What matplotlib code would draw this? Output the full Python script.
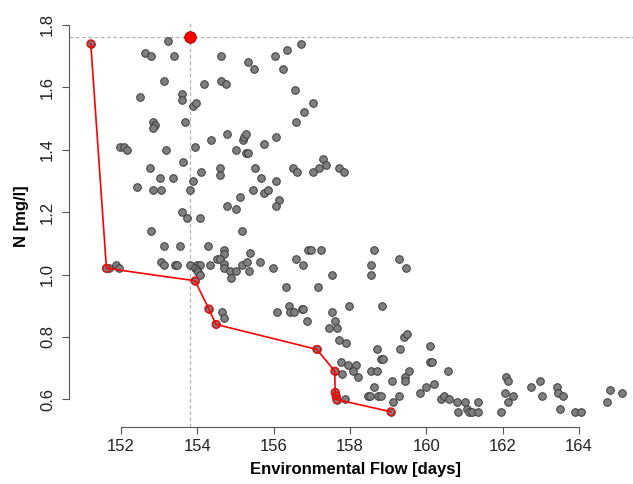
""" Environmental flow vs N concentration scatter """

import matplotlib
matplotlib.use("Agg")
import matplotlib.pyplot as plt
import numpy as np

# Candidate solutions (gray points)
flow_days = [
    153.23, 152.62, 152.80, 153.39, 154.63, 155.32, 155.49, 156.04, 156.24, 156.35,
    156.71, 153.13, 154.63, 154.75, 154.18, 153.60, 153.60, 153.90, 153.96, 152.50,
    156.55, 157.02, 156.79, 156.58, 152.84, 152.90, 152.84, 153.68, 151.97, 152.08,
    152.16, 153.17, 153.94, 154.36, 154.77, 155.02, 155.21, 155.23, 155.27, 155.28,
    155.34, 155.75, 156.05, 152.75, 153.03, 153.36, 153.62, 154.09, 153.90, 153.80,
    154.59, 154.59, 155.51, 155.66, 156.07, 156.50, 156.62, 157.03, 157.20, 157.28,
    157.38, 157.70, 157.85, 152.43, 152.84, 153.04, 155.45, 155.75, 155.85, 155.12,
    154.77, 155.02, 156.13, 156.07, 153.60, 153.72, 154.08, 152.80, 155.16,
    153.13, 153.56, 154.29, 154.70, 154.70, 154.51, 154.60, 154.69, 153.05, 153.13,
    153.41, 153.48, 153.81, 153.99, 154.08, 153.95, 153.99, 154.03, 154.08, 154.34,
    154.69, 154.86, 155.01, 154.89, 155.16, 155.31, 155.37, 155.35, 155.63, 155.98,
    156.59, 156.78, 156.91, 156.98, 157.24, 158.62, 158.54, 158.54, 157.54, 157.15,
    156.33, 159.29, 159.46, 156.39, 156.08, 156.43, 156.52, 156.74, 156.78, 156.87,
    154.64, 154.71, 151.70, 151.88, 151.96,
    157.54, 157.61, 157.45, 157.66, 157.97, 158.85, 157.72, 157.89, 158.70, 158.81,
    158.87, 159.32, 159.41, 159.48, 160.10, 160.10, 160.16, 157.76, 157.79, 157.96,
    158.16, 158.09, 158.20, 158.54, 158.70, 158.62, 158.47, 158.53, 158.72, 158.80,
    159.11, 159.43, 159.43, 159.54, 159.13, 159.28, 157.87, 159.83, 159.98, 160.19,
    160.56, 160.39, 160.47, 160.58, 160.80, 160.84, 161.02, 161.06, 161.12, 161.20,
    161.36, 161.36, 161.95, 162.08, 162.13, 162.05, 162.27, 162.15, 162.74, 162.98,
    163.03, 163.42, 163.46, 163.58, 163.51, 163.90, 164.05, 164.74, 164.82, 165.13,
]
n_conc = [
    1.75, 1.71, 1.70, 1.70, 1.70, 1.68, 1.66, 1.70, 1.66, 1.72,
    1.74, 1.62, 1.62, 1.61, 1.61, 1.58, 1.56, 1.54, 1.55, 1.57,
    1.59, 1.55, 1.52, 1.49, 1.49, 1.48, 1.47, 1.49, 1.41, 1.41,
    1.40, 1.40, 1.41, 1.43, 1.45, 1.40, 1.43, 1.44, 1.45, 1.39,
    1.39, 1.42, 1.44, 1.34, 1.31, 1.31, 1.36, 1.33, 1.30, 1.27,
    1.34, 1.32, 1.34, 1.31, 1.30, 1.34, 1.33, 1.33, 1.34, 1.37,
    1.35, 1.34, 1.33, 1.28, 1.27, 1.27, 1.27, 1.26, 1.27, 1.25,
    1.22, 1.21, 1.24, 1.22, 1.20, 1.18, 1.18, 1.14, 1.14,
    1.09, 1.09, 1.09, 1.08, 1.065, 1.05, 1.05, 1.035, 1.04, 1.03,
    1.03, 1.03, 1.03, 1.03, 1.03, 1.02, 1.014, 1.007, 0.998, 1.03,
    1.02, 1.01, 1.01, 0.99, 1.03, 1.04, 1.07, 1.01, 1.04, 1.02,
    1.05, 1.03, 1.08, 1.08, 1.08, 1.08, 1.03, 1.00, 1.00, 0.96,
    0.96, 1.05, 1.02, 0.90, 0.88, 0.88, 0.88, 0.89, 0.89, 0.85,
    0.88, 0.86, 1.02, 1.03, 1.02,
    0.88, 0.85, 0.83, 0.83, 0.90, 0.90, 0.79, 0.78, 0.76, 0.73,
    0.73, 0.76, 0.80, 0.81, 0.77, 0.72, 0.72, 0.72, 0.68, 0.71,
    0.71, 0.69, 0.67, 0.69, 0.69, 0.64, 0.61, 0.61, 0.61, 0.61,
    0.66, 0.67, 0.66, 0.69, 0.59, 0.61, 0.60, 0.62, 0.64, 0.65,
    0.69, 0.60, 0.61, 0.60, 0.59, 0.56, 0.59, 0.57, 0.56, 0.56,
    0.59, 0.56, 0.56, 0.67, 0.66, 0.62, 0.61, 0.59, 0.64, 0.66,
    0.61, 0.64, 0.62, 0.61, 0.57, 0.56, 0.56, 0.59, 0.63, 0.62,
]

# Pareto front (red)
front_days = [151.21, 151.62, 153.94, 154.30, 154.49, 157.13, 157.60, 157.61, 157.63, 157.65, 159.07]
front_n = [1.74, 1.02, 0.98, 0.89, 0.84, 0.76, 0.69, 0.622, 0.611, 0.599, 0.56]

# Selected solution
best_days = 153.81
best_n = 1.762

x_ticks = [152, 154, 156, 158, 160, 162, 164]
y_ticks = [0.6, 0.8, 1.0, 1.2, 1.4, 1.6, 1.8]


def main():
    """ Draw the chart """
    plt.rcParams['font.family'] = ['Liberation Sans', 'DejaVu Sans']

    fig = plt.figure(figsize=(6.33, 4.84), dpi=100)
    ax = fig.add_axes([69 / 633, (484 - 426.7) / 484, 573.5 / 633, 404.2 / 484])

    all_x = np.array(flow_days + front_days)
    all_y = np.array(n_conc + front_n)

    # guide lines through the selected solution
    ax.axvline(best_days, color='#b4b4b4', lw=0.9, ls=(0, (3, 2)), zorder=1)
    ax.axhline(best_n, color='#b4b4b4', lw=0.9, ls=(0, (3, 2)), zorder=1, clip_on=False)

    ax.scatter(all_x, all_y, s=30, c='#7f7f7f', edgecolors='#3a3a3a', linewidths=0.7, zorder=2)
    ax.plot(front_days, front_n, color='#ff0000', lw=1.2, zorder=3)
    ax.scatter(front_days, front_n, s=30, facecolors='none', edgecolors='#ff0000', linewidths=0.9, zorder=4)
    ax.scatter([best_days], [best_n], s=70, c='#ff0000', edgecolors='#8b0000', linewidths=0.6, zorder=5)

    ax.set_xlim(150.64, 165.66)
    ax.set_ylim(0.512, 1.808)

    # R style axes
    for side in ['top', 'right']:
        ax.spines[side].set_visible(False)
    ax.spines['left'].set_position(('outward', 0))
    ax.spines['left'].set_bounds(0.6, 1.8)
    ax.spines['bottom'].set_bounds(152, 164)
    ax.spines['left'].set_color('#555555')
    ax.spines['bottom'].set_color('#555555')
    ax.set_xticks(x_ticks)
    ax.set_yticks(y_ticks)
    ax.set_xticklabels([str(t) for t in x_ticks])
    ax.set_yticklabels([f"{t:.1f}" for t in y_ticks], rotation=90, va='center')
    ax.tick_params(axis='both', length=5, width=0.8, color='#555555', labelsize=12, labelcolor='#222222')
    ax.tick_params(axis='x', pad=4)
    ax.tick_params(axis='y', pad=5)

    label_font = dict(family=['Liberation Sans Narrow', 'Liberation Sans'], weight='bold', size=12)
    ax.set_xlabel('Environmental Flow [days]', **label_font)
    ax.xaxis.set_label_coords(0.5, -0.107)
    ax.xaxis.label.set_va('center')
    ax.set_ylabel('N [mg/l]', **label_font)
    ax.yaxis.set_label_coords(-0.082, 0.52)
    ax.yaxis.label.set_va('center')

    fig.savefig('out.png', dpi=100)


if __name__ == "__main__":
    main()
